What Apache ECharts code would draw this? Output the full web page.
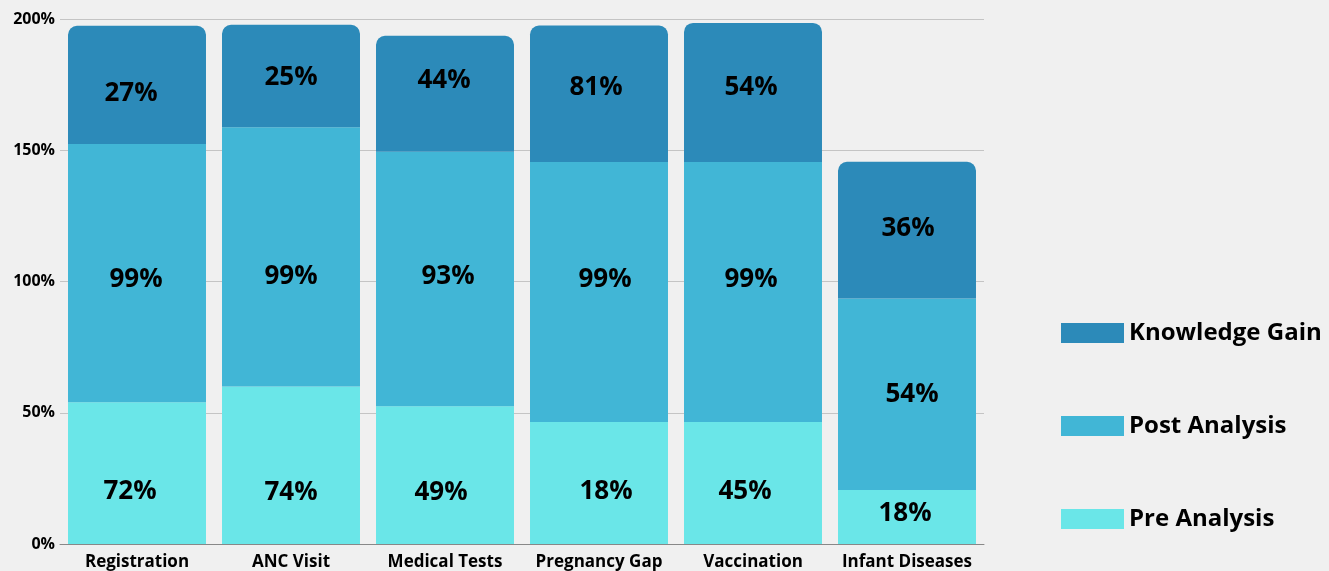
<!DOCTYPE html>
<html>
<head>
<meta charset="utf-8">
<script src="https://cdn.jsdelivr.net/npm/echarts@6/dist/echarts.min.js"></script>
<style>
html,body{margin:0;padding:0;background:#f0f0f0;}
#chart{width:1329px;height:571px;}
</style>
</head>
<body>
<div id="chart"></div>
<script>
// ---------- Data ----------
const categories = ['Registration', 'ANC Visit', 'Medical Tests', 'Pregnancy Gap', 'Vaccination', 'Infant Diseases'];
// segment heights as drawn (in % of the axis)
const preHeights = [54, 60, 52.5, 46.5, 46.5, 20.6];
const postHeights = [98.4, 98.8, 96.9, 99, 99, 72.9];
const gainHeights = [45, 39, 44.2, 52, 53, 52.1];
// printed labels
const preLabels = [72, 74, 49, 18, 45, 18];
const postLabels = [99, 99, 93, 99, 99, 54];
const gainLabels = [27, 25, 44, 81, 54, 36];
const yTicks = [0, 50, 100, 150, 200];

// ---------- Style ----------
const colors = ['#6ae6e8', '#41b6d6', '#2c8ab9'];
const FONT = '"Open Sans", "Noto Sans", sans-serif';
// label nudges in pixels [dx, dy] (the reference places its labels slightly off-centre)
const preNudge = [[-7, 18], [0, 27], [-4, 17], [7, 9], [-8, 9], [-2, -3]];
const postNudge = [[-1, 6], [0, 20], [3, -2], [6, -12], [-2, -12], [5, 0]];
const gainNudge = [[-6, 9], [0, 2], [-1, -13], [-3, -6], [-2, -5], [1, -2]];

function items(values, nudges) {
  return values.map((v, i) => ({value: v, label: {offset: nudges[i]}}));
}
function labelCfg(arr) {
  return {
    show: true,
    position: 'inside',
    color: '#000',
    fontFamily: FONT,
    fontWeight: 'bold',
    fontSize: 26,
    formatter: p => arr[p.dataIndex] + '%'
  };
}

const chart = echarts.init(document.getElementById('chart'), null, {renderer: 'canvas'});
chart.setOption({
  backgroundColor: '#f0f0f0',
  animation: false,
  grid: {left: 60, right: 345, top: 19, bottom: 26, containLabel: false},
  legend: {
    data: ['Knowledge Gain', 'Post Analysis', 'Pre Analysis'],
    orient: 'vertical',
    left: 1061,
    top: 321,
    padding: 0,
    itemWidth: 63,
    itemHeight: 20,
    itemGap: 69,
    icon: 'rect',
    textStyle: {fontFamily: FONT, fontWeight: 'bold', fontSize: 24, color: '#000', lineHeight: 24}
  },
  xAxis: {
    type: 'category',
    data: categories,
    axisTick: {show: false},
    axisLine: {lineStyle: {color: '#888', width: 1}},
    axisLabel: {color: '#000', fontFamily: FONT, fontWeight: 'bold', fontSize: 17, margin: 10, interval: 0}
  },
  yAxis: {
    type: 'value',
    min: yTicks[0],
    max: yTicks[yTicks.length - 1],
    interval: yTicks[1] - yTicks[0],
    axisLine: {show: false},
    axisTick: {show: false},
    splitLine: {lineStyle: {color: '#c4c4c4', width: 1}},
    axisLabel: {color: '#000', fontFamily: FONT, fontWeight: 'bold', fontSize: 16, margin: 5, formatter: '{value}%'}
  },
  series: [
    {
      name: 'Pre Analysis', type: 'bar', stack: 'total', data: items(preHeights, preNudge),
      barCategoryGap: '10.4%', itemStyle: {color: colors[0]}, label: labelCfg(preLabels)
    },
    {
      name: 'Post Analysis', type: 'bar', stack: 'total', data: items(postHeights, postNudge),
      itemStyle: {color: colors[1]}, label: labelCfg(postLabels)
    },
    {
      name: 'Knowledge Gain', type: 'bar', stack: 'total', data: items(gainHeights, gainNudge),
      itemStyle: {color: colors[2], borderRadius: [9, 9, 0, 0]}, label: labelCfg(gainLabels)
    }
  ]
});
</script>
</body>
</html>
